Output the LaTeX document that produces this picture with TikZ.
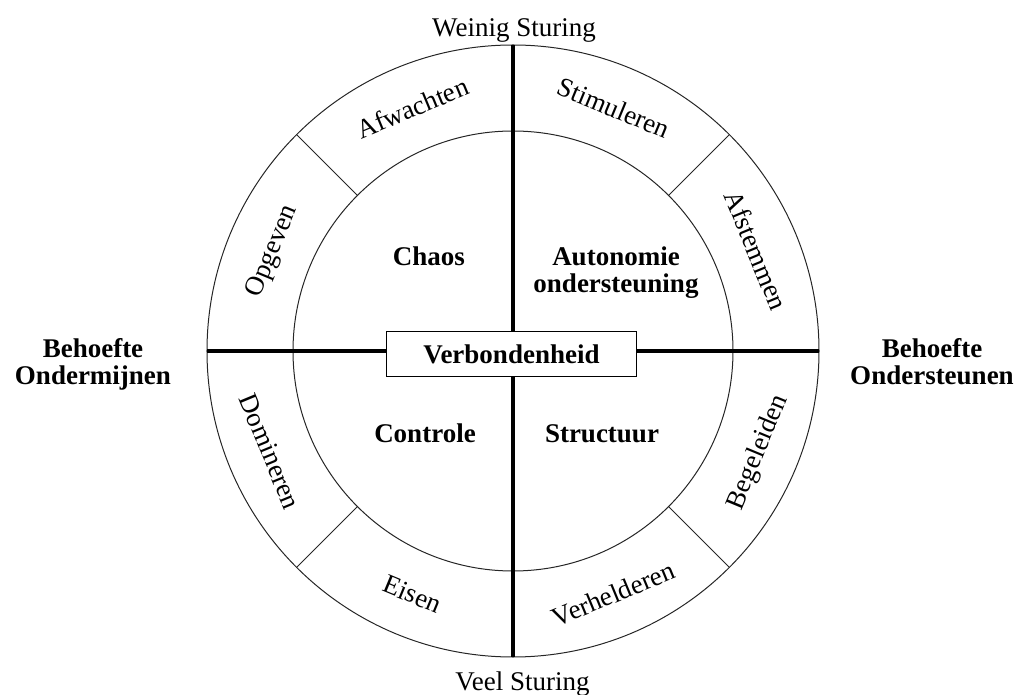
\documentclass[tikz,border=0pt]{standalone}
\usepackage{fontspec}
\setmainfont{Liberation Serif}
\begin{document}
\begin{tikzpicture}[x=1pt,y=1pt,
  ring/.style={line width=1pt, draw=black!85},
  axis/.style={line width=3.6pt, draw=black},
  lbl/.style={font=\fontsize{27}{28}\selectfont, inner sep=0pt},
  rlbl/.style={font=\fontsize{27}{28}\selectfont, inner sep=0pt, text height=18pt, text depth=0pt},
  blbl/.style={font=\fontsize{27}{28}\selectfont\bfseries, inner sep=0pt},
  box/.style={draw=black, line width=1pt, fill=white, minimum width=249pt, minimum height=45pt, inner sep=0pt, font=\fontsize{27}{28}\selectfont\bfseries},
]
\useasboundingbox (-513,-344) rectangle (503,351);
\coordinate (O) at (0,0);
\draw[ring] (O) circle (306);
\draw[ring] (O) circle (220);
\foreach \a in {45,135,225,315} {
  \coordinate (in\a) at (\a:220);
  \coordinate (out\a) at (\a:306);
  \draw[ring] (in\a) -- (out\a);
}
\coordinate (T) at (90:306);
\coordinate (B) at (270:306);
\coordinate (L) at (180:306);
\coordinate (R) at (0:306);
\draw[axis] (T) -- (B);
\draw[axis] (L) -- (R);
\node[box] (verb) at (-1.5,-3.5) {Verbondenheid};

% ring labels
\node[rlbl, rotate=22.5]  (afw) at (112.5:263) {Afwachten};
\node[rlbl, rotate=-22.5] (sti) at (67.5:263) {Stimuleren};
\node[rlbl, rotate=-67.5] (afs) at (22.5:263) {Afstemmen};
\node[rlbl, rotate=67.5]  (opg) at (157.5:263) {Opgeven};
\node[rlbl, rotate=-67.5] (dom) at (202.5:263) {Domineren};
\node[rlbl, rotate=-22.5] (eis) at (247.5:263) {Eisen};
\node[rlbl, rotate=22.5]  (ver) at (292.5:263) {Verhelderen};
\node[rlbl, rotate=67.5]  (beg) at (337.5:263) {Begeleiden};

% quadrant labels
\node[blbl, anchor=base] (chaos) at (-84,85) {Chaos};
\node[blbl, anchor=base] (auto1) at (103,85) {Autonomie};
\node[blbl, anchor=base] (auto2) at (103,58) {ondersteuning};
\node[blbl, anchor=base] (contr) at (-88,-92) {Controle};
\node[blbl, anchor=base] (struc) at (89,-92) {Structuur};

% outer labels
\node[lbl, anchor=base] (weinig) at (1,314) {Weinig Sturing};
\node[lbl, anchor=base] (veel) at (9.5,-339) {Veel Sturing};
\node[blbl, anchor=base] (bo1) at (-420,-7) {Behoefte};
\node[blbl, anchor=base] (bo2) at (-420,-34) {Ondermijnen};
\node[blbl, anchor=base] (bs1) at (419,-7) {Behoefte};
\node[blbl, anchor=base] (bs2) at (419,-34) {Ondersteunen};
\end{tikzpicture}
\end{document}
